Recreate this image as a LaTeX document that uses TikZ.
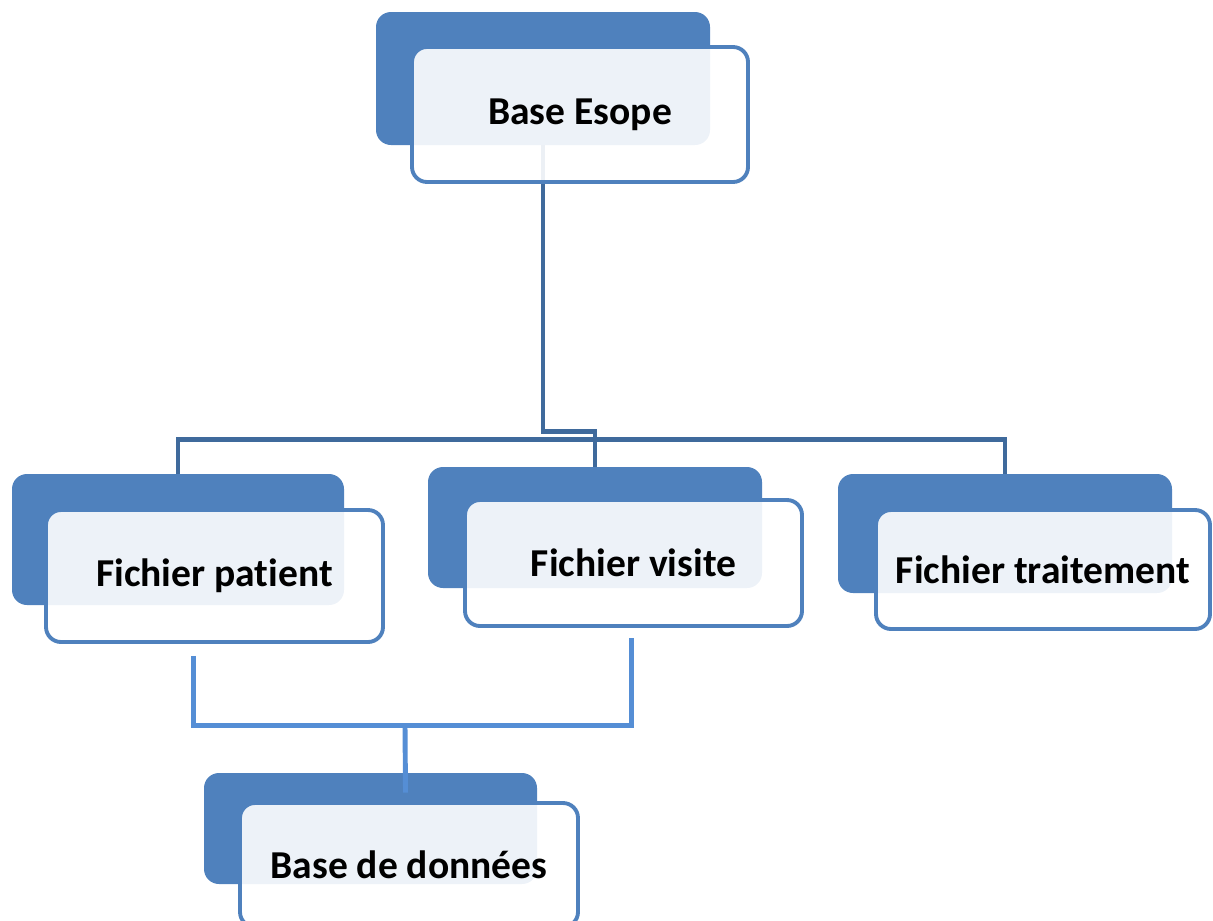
\documentclass[tikz,border=0pt]{standalone}
\usepackage{fontspec}
\setmainfont{Carlito}[Ligatures=NoCommon]
\usetikzlibrary{positioning,calc}
\definecolor{BoxBlue}{HTML}{4F81BD}
\definecolor{TreeBlue}{HTML}{3F6A9C}
\definecolor{LinkBlue}{HTML}{558ED5}
\tikzset{
    backbox/.style={%
        draw=none, fill=BoxBlue, rounded corners=0.3cm, inner sep=0pt
    },
    frontbox/.style={%
        draw=BoxBlue, line width=2.2pt, fill=white, fill opacity=0.9, text opacity=1,
        rounded corners=0.3cm, inner sep=0pt,
        font=\fontsize{22.5}{27}\selectfont\bfseries
    },
    toplink/.style={%
        draw=TreeBlue, line width=2.6pt
    },
    lowlink/.style={%
        draw=LinkBlue, line width=2.8pt
    }
}
\begin{document}
\begin{tikzpicture}[x=0.02cm, y=-0.02cm]
    \useasboundingbox (0,0) rectangle (1213,920);
    \clip (0,0) rectangle (1213,920);

    % back boxes
    \foreach \n/\cx/\cy/\w/\h in {esopeback/543/78.5/334/133, patientback/178/539.5/332/131,
        visiteback/595/527.5/334/121, traitementback/1005/533.5/334/119, donneesback/370.5/828.5/333/111} {
        \node[backbox, minimum width=\w*0.02cm, minimum height=\h*0.02cm] (\n) at (\cx,\cy) {};
    }

    % front boxes (positions only, drawn after the links)
    \path (580,114.5) coordinate (esopec) (214.5,576) coordinate (patientc)
        (633.5,563) coordinate (visitec) (1043,569.5) coordinate (traitementc)
        (409,865) coordinate (donneesc);

    % links
    \draw[toplink] (esopeback.south) -- ++(0,286) -| (visiteback.north);
    \draw[toplink] (patientback.north) |- ($(esopeback.south)+(0,294)$) -| (traitementback.north);

    \foreach \n/\w/\h/\txt in {esope/336/135/Base Esope, patient/337/132/Fichier patient,
        visite/337/126/Fichier visite, traitement/334/119/Fichier traitement, donnees/338/124/Base de données} {
        \node[frontbox, minimum width=\w*0.02cm, minimum height=\h*0.02cm] (\n) at (\n c) {\txt};
    }

    \coordinate (split) at ($(donnees.north)+(-4,-76)$);
    \draw[lowlink] ($(patient.south)+(-21,12)$) |- (split) -| ($(visite.south)+(-2,10)$);
    \draw[lowlink] (split) -- ($(donneesback.north)+(35,20)$);
\end{tikzpicture}
\end{document}
